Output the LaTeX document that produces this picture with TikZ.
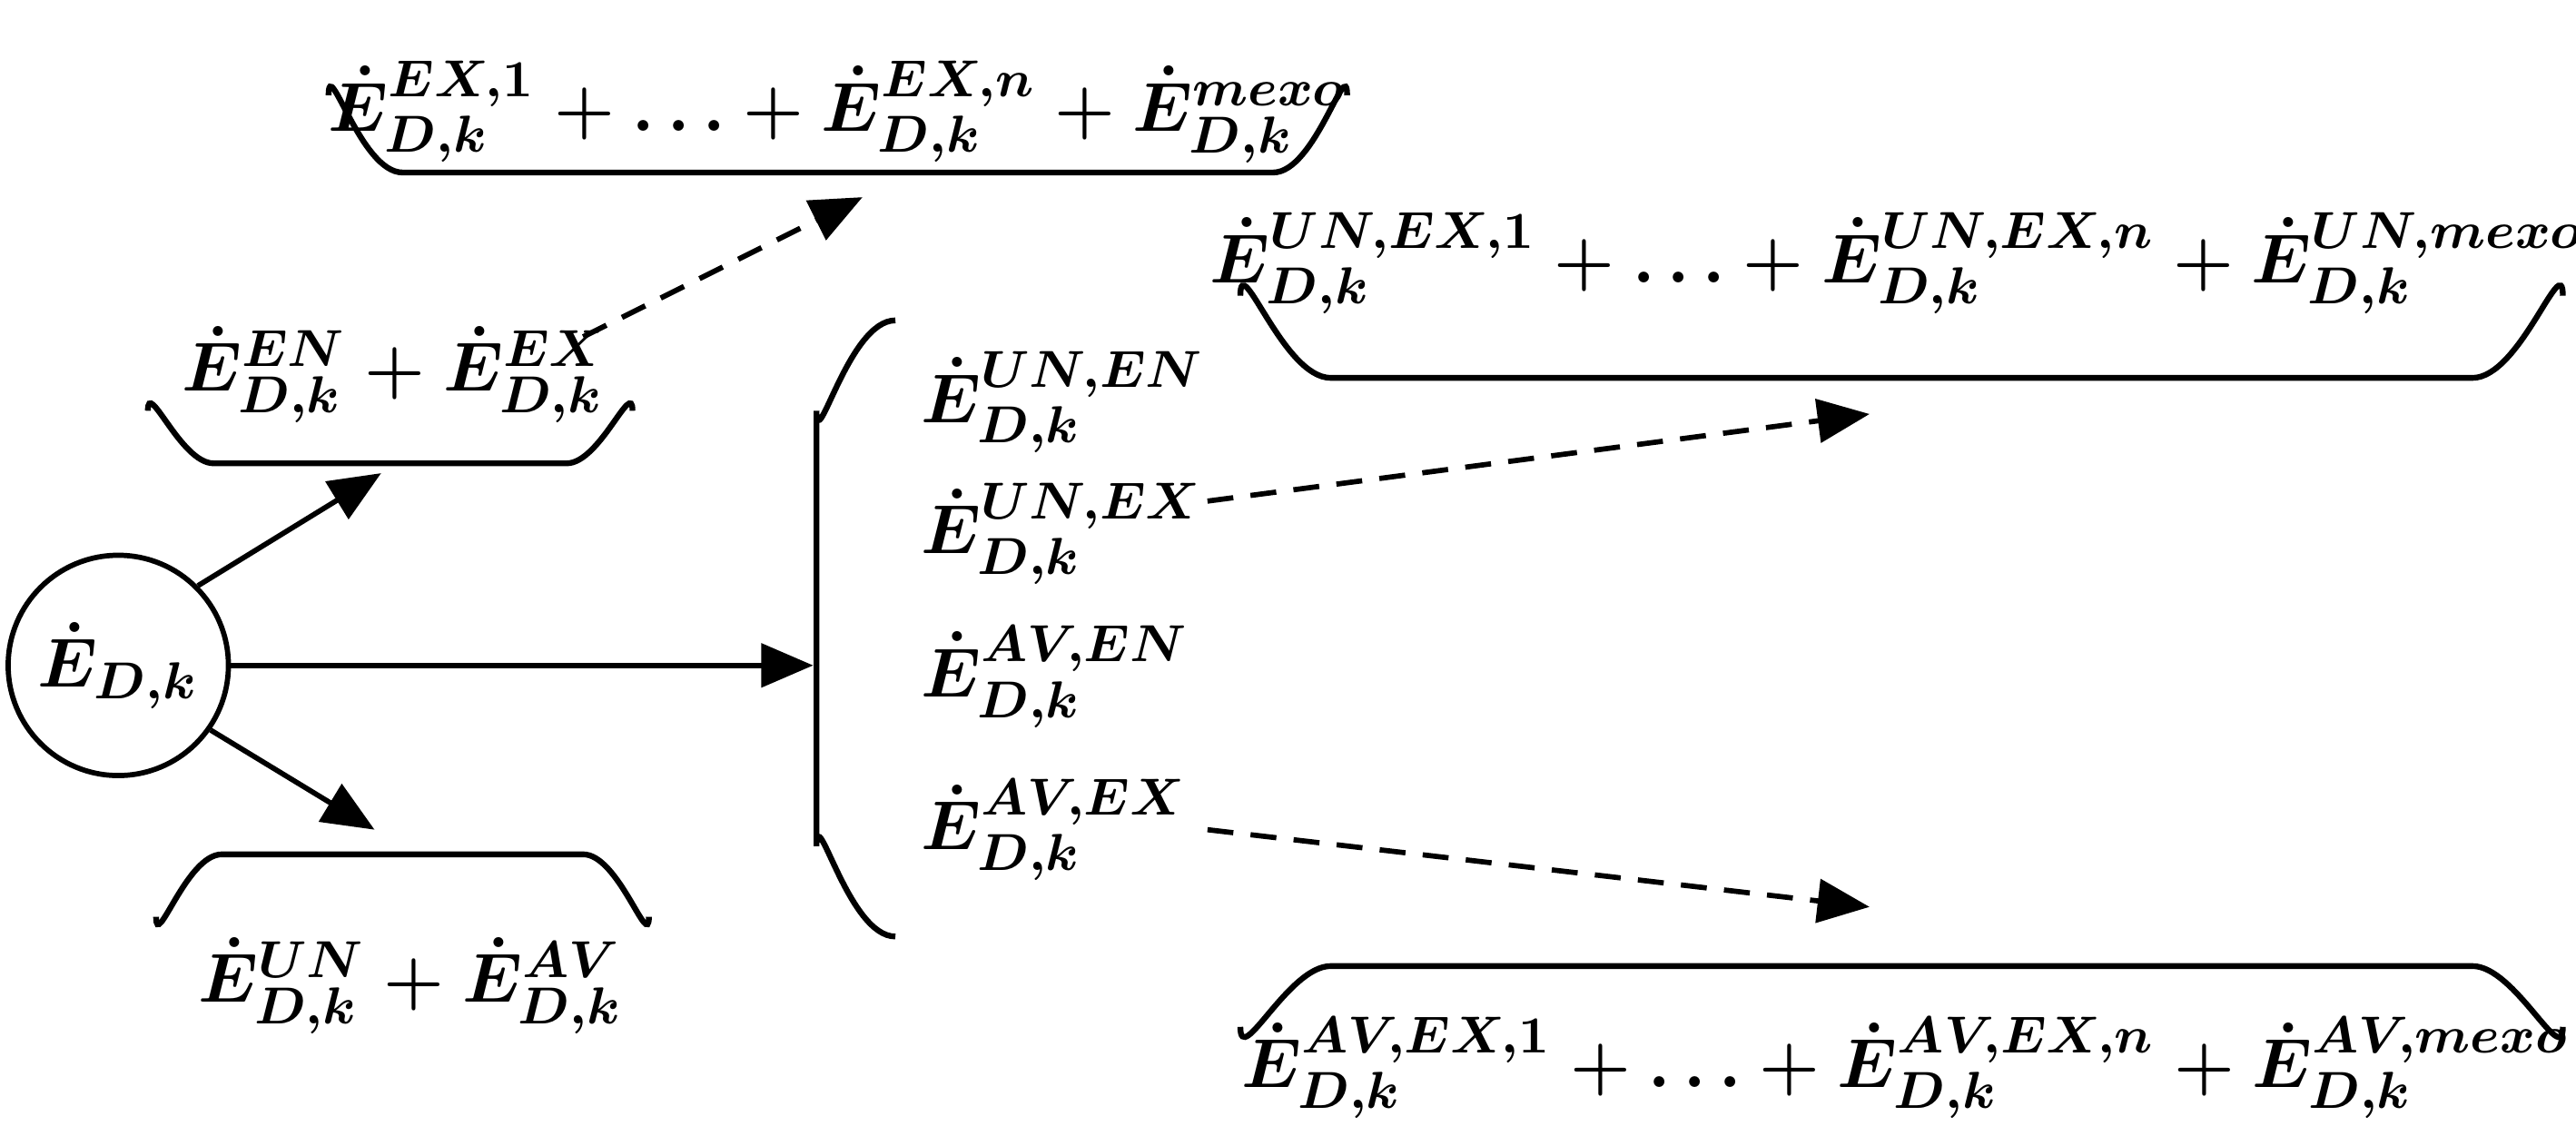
\documentclass[tikz,border=0pt]{standalone}
\usetikzlibrary{arrows.meta}
\newcommand{\Ed}{\dot{E}}
\begin{document}
\begin{tikzpicture}[x=0.01cm,y=-0.01cm,
  txt/.style={font=\fontsize{12.5}{15}\selectfont\boldmath, inner sep=0pt},
  arr/.style={line width=0.9pt,-{Triangle[length=9pt,width=7.5pt]}},
  darr/.style={arr,dashed,dash pattern=on 4.5pt off 3pt},
  brk/.style={line width=1pt}]
\useasboundingbox (0,0) rectangle (1568,691);
% centre
\node[draw,circle,line width=0.9pt,minimum size=1.34cm,inner sep=0pt,txt] (c) at (72,405) {$\Ed_{D,k}$};
% top-left
\node[txt] (tl) at (240,228) {$\Ed^{EN}_{D,k}+\Ed^{EX}_{D,k}$};
\draw[brk] (90,250) to[out=90,in=180] (130,282) -- (345,282) to[out=0,in=90] (385,250);
% top
\node[txt] (t) at (510,68) {$\Ed^{EX,1}_{D,k}+\ldots+\Ed^{EX,n}_{D,k}+\Ed^{mexo}_{D,k}$};
\draw[brk] (200,58) to[out=90,in=180] (245,105) -- (775,105) to[out=0,in=90] (820,58);
% bottom-left
\node[txt] (bl) at (250,600) {$\Ed^{UN}_{D,k}+\Ed^{AV}_{D,k}$};
\draw[brk] (95,558) to[out=-90,in=180] (135,520) -- (355,520) to[out=0,in=-90] (395,558);
% big brace
\draw[brk] (545,195) to[out=180,in=-90] (497,250) -- (497,515) to[out=90,in=180] (545,570);
\node[txt,anchor=west] (a1) at (560,245) {$\Ed^{UN,EN}_{D,k}$};
\node[txt,anchor=west] (a2) at (560,325) {$\Ed^{UN,EX}_{D,k}$};
\node[txt,anchor=west] (a3) at (560,412) {$\Ed^{AV,EN}_{D,k}$};
\node[txt,anchor=west] (a4) at (560,505) {$\Ed^{AV,EX}_{D,k}$};
% right top
\node[txt] (rt) at (1155,160) {$\Ed^{UN,EX,1}_{D,k}+\ldots+\Ed^{UN,EX,n}_{D,k}+\Ed^{UN,mexo}_{D,k}$};
\draw[brk] (755,180) to[out=90,in=180] (810,230) -- (1505,230) to[out=0,in=90] (1560,180);
% right bottom
\node[txt] (rb) at (1160,650) {$\Ed^{AV,EX,1}_{D,k}+\ldots+\Ed^{AV,EX,n}_{D,k}+\Ed^{AV,mexo}_{D,k}$};
\draw[brk] (755,625) to[out=-90,in=180] (810,588) -- (1505,588) to[out=0,in=-90] (1560,625);
% targets
\coordinate (p1) at (232,288);
\coordinate (p2) at (495,405);
\coordinate (p3) at (228,505);
\coordinate (p4) at (525,120);
\coordinate (p5) at (1138,252);
\coordinate (p6) at (1138,552);
\coordinate (s4) at (355,205);
\coordinate (s5) at (735,305);
\coordinate (s6) at (735,505);
\draw[arr] (c.45) -- (p1);
\draw[arr] (c.east) -- (p2);
\draw[arr] (c.-35) -- (p3);
\draw[darr] (s4) -- (p4);
\draw[darr] (s5) -- (p5);
\draw[darr] (s6) -- (p6);
\end{tikzpicture}
\end{document}
